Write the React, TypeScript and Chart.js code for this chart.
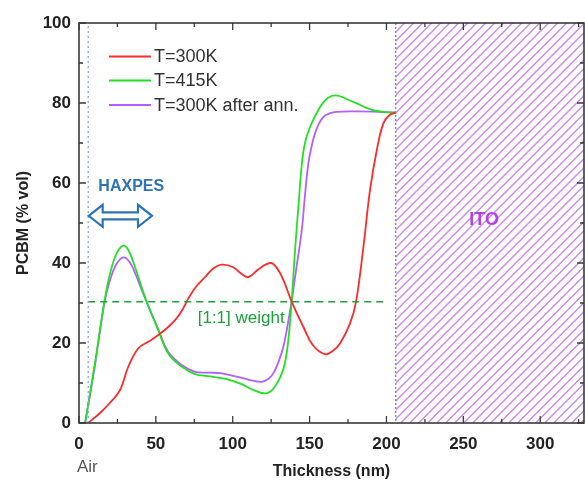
import React, { useEffect, useRef } from "react";
import { Chart, registerables } from "chart.js";

Chart.register(...registerables);

// ---- Data ----
const seriesLabels = ["T=300K", "T=415K", "T=300K after ann."];

const redX = [6, 13.7, 20, 26.7, 32, 38.6, 45, 51.6, 58, 62.5, 66.8, 71.1, 76, 82, 87, 92.8, 100, 105, 110.2, 117, 124.7, 129, 133, 138.4, 146, 152.4, 160, 165, 169.8, 176.3, 180.2, 185, 189.3, 193.7, 198, 202, 206];
const redY = [0, 2.5, 5, 8.2, 14, 18.7, 20.3, 22, 24, 25.7, 28, 31.1, 34, 36.5, 38.5, 39.6, 39, 37.5, 36.5, 38.5, 40, 38.6, 35.7, 30.3, 24, 19.3, 17.2, 18, 19.9, 24.9, 30.3, 44, 58.2, 68.2, 74.9, 77, 77.6];

const greenX = [4, 10.4, 16.5, 20, 24, 28.4, 32, 36.4, 44, 51.6, 58, 66.8, 75.5, 84, 92.8, 99.3, 105.8, 112, 121, 126, 131, 134, 136.5, 138.4, 140.5, 142.7, 144.9, 147, 150.3, 156.8, 162, 167.2, 174, 180.7, 187, 193.7, 200, 206];
const greenY = [0, 15, 30.3, 37, 42, 44.3, 43.3, 39, 30.3, 23.2, 17.4, 14.1, 12.2, 11.7, 11.2, 10.6, 9.7, 8.5, 7.4, 8.4, 11.5, 15, 22, 30.7, 43, 54, 64.5, 70, 74, 79, 81.3, 81.9, 81, 79.9, 78.8, 78, 77.7, 77.6];

const purpleX = [4, 10.4, 16.5, 20, 24, 28.8, 33, 37, 40, 44, 51.6, 58, 66.8, 75.5, 84, 92.8, 105.8, 113, 118.8, 123, 126.4, 130, 132.9, 135.5, 138.4, 141.5, 144.9, 147, 149.2, 151.5, 153.5, 156, 159, 163, 167.6, 180, 195, 206];
const purpleY = [0, 14.5, 30, 35.5, 39.5, 41.4, 40.2, 37, 34, 30.3, 23.4, 17.8, 14.5, 12.8, 12.6, 12.4, 11.3, 10.6, 10.3, 11, 12.4, 15.5, 19, 24, 30.7, 39, 48.2, 57, 64.9, 69.5, 72.4, 74.8, 76.5, 77.4, 77.8, 77.9, 77.8, 77.6];

// [1:1] weight reference line
const weightX = [6, 198];
const weightY = [30.3, 30.3];

// Air boundary and ITO boundary
const airX = [6, 6];
const airY = [0, 100];
const itoStart = 206;

const xTickValues = [0, 50, 100, 150, 200, 250, 300];
const yTickValues = [0, 20, 40, 60, 80, 100];
const xMin = 0;
const xMax = 328.5;
const yMin = 0;
const yMax = 100;

const seriesColors = ["#ff2a2a", "#22e022", "#b060ff"];

const FONT = "Arial, 'Liberation Sans', sans-serif";

function pts(xs: number[], ys: number[]) {
  return xs.map((x, i) => ({ x, y: ys[i] }));
}

const backgroundPlugin = {
  id: "bgDecor",
  beforeDatasetsDraw(chart: any) {
    const { ctx, chartArea: a, scales } = chart;
    const x = scales.x;
    const x0 = x.getPixelForValue(itoStart);
    ctx.save();
    ctx.beginPath();
    ctx.rect(x0, a.top, a.right - x0, a.bottom - a.top);
    ctx.clip();
    ctx.strokeStyle = "#c98af0";
    ctx.lineWidth = 1.4;
    const h = a.bottom - a.top;
    ctx.beginPath();
    for (let s = x0 - h; s < a.right + 10; s += 9) {
      ctx.moveTo(s, a.bottom);
      ctx.lineTo(s + h, a.top);
    }
    ctx.stroke();
    ctx.restore();
    ctx.save();
    ctx.strokeStyle = "#8090c8";
    ctx.lineWidth = 1.5;
    ctx.setLineDash([2, 2]);
    ctx.beginPath();
    ctx.moveTo(x0, a.top);
    ctx.lineTo(x0, a.bottom);
    ctx.stroke();
    ctx.restore();
  },
  afterDatasetsDraw(chart: any) {
    const { ctx, scales } = chart;
    const x = scales.x;
    const y = scales.y;
    ctx.save();
    ctx.fillStyle = "#2e74b5";
    ctx.font = `bold 16px ${FONT}`;
    ctx.textAlign = "center";
    ctx.textBaseline = "middle";
    ctx.fillText("HAXPES", x.getPixelForValue(34), y.getPixelForValue(59.2));
    const ax0 = x.getPixelForValue(6.3);
    const ax1 = x.getPixelForValue(47.5);
    const ay = y.getPixelForValue(51.8);
    const hh = 11;
    const sh = 3.5;
    const hl = 14;
    ctx.beginPath();
    ctx.moveTo(ax0, ay);
    ctx.lineTo(ax0 + hl, ay - hh);
    ctx.lineTo(ax0 + hl, ay - sh);
    ctx.lineTo(ax1 - hl, ay - sh);
    ctx.lineTo(ax1 - hl, ay - hh);
    ctx.lineTo(ax1, ay);
    ctx.lineTo(ax1 - hl, ay + hh);
    ctx.lineTo(ax1 - hl, ay + sh);
    ctx.lineTo(ax0 + hl, ay + sh);
    ctx.lineTo(ax0 + hl, ay + hh);
    ctx.closePath();
    ctx.fillStyle = "#ffffff";
    ctx.fill();
    ctx.strokeStyle = "#2e74b5";
    ctx.lineWidth = 2.2;
    ctx.lineJoin = "miter";
    ctx.stroke();
    ctx.fillStyle = "#1aa33a";
    ctx.font = `17px ${FONT}`;
    ctx.textAlign = "center";
    ctx.fillText("[1:1] weight", x.getPixelForValue(105.5), y.getPixelForValue(26.2));
    ctx.fillStyle = "#b040f0";
    ctx.font = `bold 18px ${FONT}`;
    ctx.fillText("ITO", x.getPixelForValue(263.5), y.getPixelForValue(50.7));
    ctx.restore();
  },
  afterDraw(chart: any) {
    const { ctx, chartArea: a, scales } = chart;
    const x = scales.x;
    const y = scales.y;
    ctx.save();
    ctx.strokeStyle = "#3a3a3a";
    ctx.lineWidth = 1.6;
    ctx.strokeRect(a.left, a.top, a.right - a.left, a.bottom - a.top);
    ctx.lineWidth = 1.3;
    ctx.beginPath();
    for (let v = 0; v <= xMax; v += 25) {
      const px = x.getPixelForValue(v);
      const len = v % 50 === 0 ? 7 : 4;
      ctx.moveTo(px, a.bottom);
      ctx.lineTo(px, a.bottom - len);
      ctx.moveTo(px, a.top);
      ctx.lineTo(px, a.top + len);
    }
    for (let v = 0; v <= yMax; v += 10) {
      const py = y.getPixelForValue(v);
      const len = v % 20 === 0 ? 7 : 4;
      ctx.moveTo(a.left, py);
      ctx.lineTo(a.left + len, py);
      ctx.moveTo(a.right, py);
      ctx.lineTo(a.right - len, py);
    }
    ctx.stroke();
    ctx.fillStyle = "#555555";
    ctx.font = `17px ${FONT}`;
    ctx.textAlign = "left";
    ctx.textBaseline = "middle";
    ctx.fillText("Air", x.getPixelForValue(0) - 2, 467);
    const rows = [56.5, 80.5, 105];
    ctx.font = `18px ${FONT}`;
    ctx.fillStyle = "#333333";
    for (let i = 0; i < 3; i++) {
      ctx.strokeStyle = seriesColors[i];
      ctx.lineWidth = 1.8;
      ctx.beginPath();
      ctx.moveTo(109, rows[i]);
      ctx.lineTo(151, rows[i]);
      ctx.stroke();
      ctx.fillText(seriesLabels[i], 154, rows[i] + 1);
    }
    ctx.restore();
  },
};

export default function App() {
  const ref = useRef<HTMLCanvasElement | null>(null);
  useEffect(() => {
    if (!ref.current) return;
    const lineDs = (label: string, data: any[], color: string) => ({
      label,
      data,
      borderColor: color,
      backgroundColor: color,
      borderWidth: 1.8,
      pointRadius: 0,
      showLine: true,
      tension: 0.4,
      fill: false,
    });
    const chart = new Chart(ref.current, {
      type: "scatter",
      data: {
        datasets: [
          {
            label: "air",
            data: pts(airX, airY),
            borderColor: "#8fa8f5",
            borderWidth: 1.4,
            borderDash: [2, 3],
            pointRadius: 0,
            showLine: true,
          },
          {
            label: "[1:1] weight",
            data: pts(weightX, weightY),
            borderColor: "#1aa33a",
            borderWidth: 1.6,
            borderDash: [7, 5],
            pointRadius: 0,
            showLine: true,
          },
          lineDs(seriesLabels[0], pts(redX, redY), seriesColors[0]),
          lineDs(seriesLabels[1], pts(greenX, greenY), seriesColors[1]),
          lineDs(seriesLabels[2], pts(purpleX, purpleY), seriesColors[2]),
        ],
      },
      options: {
        responsive: false,
        animation: false,
        layout: { padding: { top: 23, right: 1, left: 0, bottom: 0 } },
        plugins: { legend: { display: false }, tooltip: { enabled: false } },
        scales: {
          x: {
            type: "linear",
            min: xMin,
            max: xMax,
            afterBuildTicks: (s: any) => {
              s.ticks = xTickValues.map((v) => ({ value: v }));
            },
            afterFit: (s: any) => {
              s.height = 61;
            },
            grid: { display: false, drawTicks: false },
            border: { display: false },
            ticks: {
              padding: 11,
              color: "#222222",
              font: { family: FONT, size: 17, weight: "bold" },
              maxRotation: 0,
            },
            title: {
              display: true,
              text: "Thickness (nm)",
              color: "#222222",
              font: { family: FONT, size: 16, weight: "bold" },
              padding: { top: 0, bottom: 3 },
            },
          },
          y: {
            type: "linear",
            min: yMin,
            max: yMax,
            afterBuildTicks: (s: any) => {
              s.ticks = yTickValues.map((v) => ({ value: v }));
            },
            afterFit: (s: any) => {
              s.width = 79;
            },
            grid: { display: false, drawTicks: false },
            border: { display: false },
            ticks: {
              padding: 8,
              color: "#222222",
              font: { family: FONT, size: 17, weight: "bold" },
            },
            title: {
              display: true,
              text: "PCBM (% vol)",
              color: "#222222",
              font: { family: FONT, size: 16, weight: "bold" },
              padding: { top: 14, bottom: 0 },
            },
          },
        },
      },
      plugins: [backgroundPlugin],
    });
    return () => chart.destroy();
  }, []);
  return (
    <div style={{ position: "fixed", left: 0, top: 0, width: 585, height: 484, background: "#fff" }}>
      <canvas ref={ref} width={585} height={484} style={{ width: 585, height: 484, display: "block" }} />
    </div>
  );
}
